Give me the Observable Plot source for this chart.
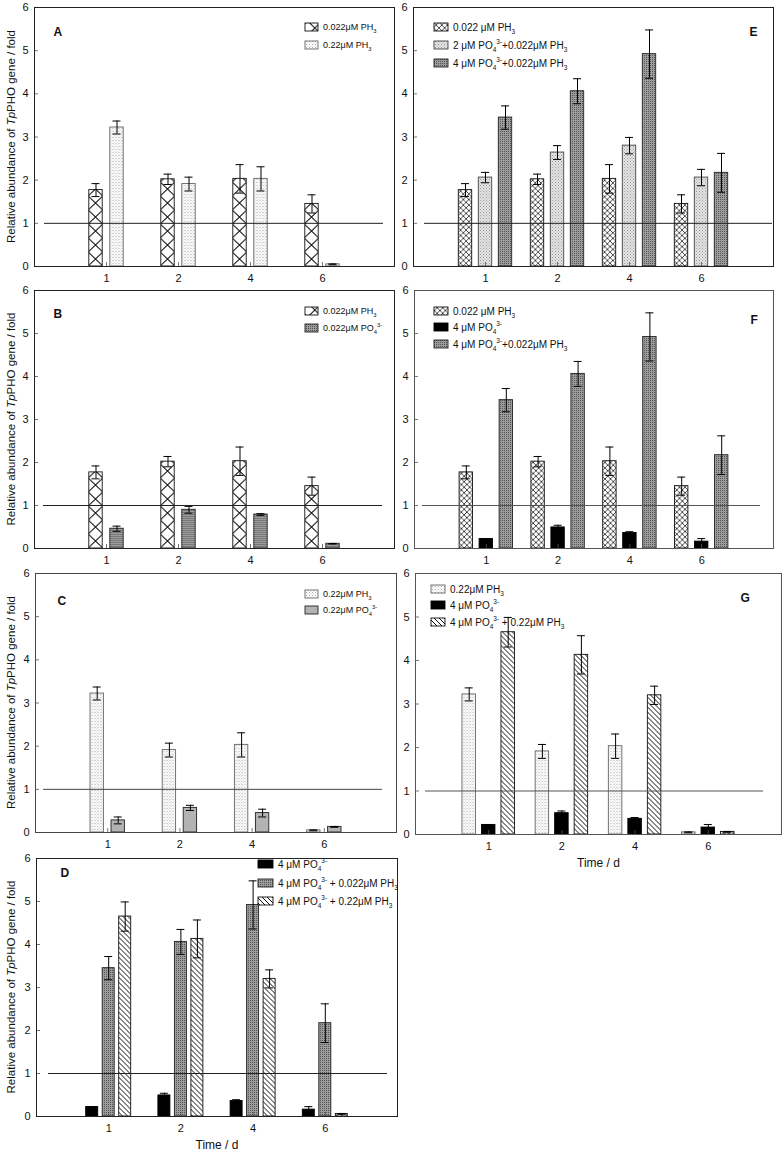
<!DOCTYPE html>
<html><head><meta charset="utf-8">
<script src="https://cdn.jsdelivr.net/npm/d3@7"></script>
<script src="https://cdn.jsdelivr.net/npm/@observablehq/plot@0.6"></script>
<style>
body{margin:0;background:#fff;}
#wrap{position:relative;width:784px;height:1156px;background:#fff;overflow:hidden;}
#wrap svg{position:absolute;}
</style></head><body><div id="wrap"></div>
<script>
// ---------- data ----------
const days = ["1", "2", "4", "6"];
const yTicks = [0, 1, 2, 3, 4, 5, 6];
// relative abundance (fold) and error per treatment
const ph3_022 = [1.77, 2.02, 2.03, 1.45];
const ph3_022Err = [0.15, 0.12, 0.33, 0.21];
const ph3_22 = [3.22, 1.91, 2.03, 0.05];
const ph3_22Err = [0.15, 0.16, 0.28, 0.01];
const po4_022 = [0.46, 0.90, 0.79, 0.11];
const po4_022Err = [0.06, 0.08, 0.02, 0.005];
const po4_22 = [0.28, 0.57, 0.45, 0.13];
const po4_22Err = [0.08, 0.06, 0.09, 0.01];
const po4_4 = [0.22, 0.49, 0.36, 0.16];
const po4_4Err = [0.01, 0.05, 0.03, 0.07];
const po4_2ph3_022 = [2.06, 2.64, 2.80, 2.06];
const po4_2ph3_022Err = [0.12, 0.16, 0.19, 0.19];
const po4_4ph3_022 = [3.45, 4.06, 4.92, 2.17];
const po4_4ph3_022Err = [0.27, 0.29, 0.56, 0.45];
const po4_4ph3_22 = [4.65, 4.13, 3.20, 0.06];
const po4_4ph3_22Err = [0.34, 0.44, 0.21, 0.01];
// legend labels ({_x} subscript, {^x} superscript)
const legendA = ["0.022μM PH{_3}", "0.22μM PH{_3}"];
const legendB = ["0.022μM PH{_3}", "0.022μM PO{_4}{^3-}"];
const legendC = ["0.22μM PH{_3}", "0.22μM PO{_4}{^3-}"];
const legendD = ["4 μM PO{_4}{^3-}", "4 μM PO{_4}{^3-} + 0.022μM PH{_3}", "4 μM PO{_4}{^3-} + 0.22μM PH{_3}"];
const legendE = ["0.022 μM PH{_3}", "2 μM PO{_4}{^3-}+0.022μM PH{_3}", "4 μM PO{_4}{^3-}+0.022μM PH{_3}"];
const legendF = ["0.022 μM PH{_3}", "4 μM PO{_4}{^3-}", "4 μM PO{_4}{^3-}+0.022μM PH{_3}"];
const legendG = ["0.22μM PH{_3}", "4 μM PO{_4}{^3-}", "4 μM PO{_4}{^3-} + 0.22μM PH{_3}"];
const yTitleParts = ["Relative abundance of ", "Tp", "PHO gene / fold"];
const xTitle = "Time / d";

// ---------- layout / styles ----------
const FONT = '"Liberation Sans", Arial, Helvetica, sans-serif';
const strokeOf = {crossBig: "#111", crossSmall: "#111", dots: "#666", dark: "#222", light: "#444", gray: "#222", black: "#000", hatch: "#111"};

const panels = [
  {id: "A", col: 0, frame: [34, 394, 7, 266], series: [[ph3_022, ph3_022Err, "crossBig"], [ph3_22, ph3_22Err, "dots"]],
   legend: legendA, offsets: [-10.5, 10.5], barW: 13.4, leg: {x: 305, rows: [27, 45], fs: 9, sw: 13}, letter: [53, 27], ref: [10, 11], yTitle: true, xTitle: false, ink: "#222"},
  {id: "B", col: 0, frame: [34, 394, 290, 548], series: [[ph3_022, ph3_022Err, "crossBig"], [po4_022, po4_022Err, "dark"]],
   legend: legendB, offsets: [-10.5, 10.5], barW: 13.4, leg: {x: 305, rows: [311, 328], fs: 9, sw: 13}, letter: [53, 309], ref: [9, 12], yTitle: true, xTitle: false, ink: "#222"},
  {id: "C", col: 0, frame: [35, 396, 573, 832], series: [[ph3_22, ph3_22Err, "dots"], [po4_22, po4_22Err, "gray"]],
   legend: legendC, offsets: [-10.5, 10.5], barW: 13.4, leg: {x: 305, rows: [594, 610], fs: 9, sw: 13}, letter: [57, 596], ref: [8, 14], yTitle: true, xTitle: false, ink: "#444"},
  {id: "D", col: 0, frame: [36, 397, 858, 1116], series: [[po4_4, po4_4Err, "black"], [po4_4ph3_022, po4_4ph3_022Err, "dark"], [po4_4ph3_22, po4_4ph3_22Err, "hatch"]],
   legend: legendD, offsets: [-16.5, 0, 16.5], barW: 12, leg: {x: 258, rows: [864, 883, 901], fs: 10, sw: 15}, letter: [60, 868], ref: [12, 10], yTitle: true, xTitle: true, ink: "#222"},
  {id: "E", col: 1, frame: [413, 773, 7, 266], series: [[ph3_022, ph3_022Err, "crossSmall"], [po4_2ph3_022, po4_2ph3_022Err, "light"], [po4_4ph3_022, po4_4ph3_022Err, "dark"]],
   legend: legendE, offsets: [-20, 0, 20], barW: 13.4, leg: {x: 434, rows: [27, 45, 63], fs: 10, sw: 14}, letter: [749, 27], ref: [11, 1], yTitle: false, xTitle: false, ink: "#222"},
  {id: "F", col: 1, frame: [414, 773, 290, 548], series: [[ph3_022, ph3_022Err, "crossSmall"], [po4_4, po4_4Err, "black"], [po4_4ph3_022, po4_4ph3_022Err, "dark"]],
   legend: legendF, offsets: [-20, 0, 20], barW: 13.4, leg: {x: 434, rows: [311, 327, 344], fs: 10, sw: 14}, letter: [750, 315], ref: [8, 13], yTitle: false, xTitle: false, ink: "#555"},
  {id: "G", col: 1, frame: [415, 781, 573, 834], series: [[ph3_22, ph3_22Err, "dots"], [po4_4, po4_4Err, "black"], [po4_4ph3_22, po4_4ph3_22Err, "hatch"]],
   legend: legendG, offsets: [-19.5, 0, 19.5], barW: 13.5, leg: {x: 431, rows: [589, 605, 622], fs: 10, sw: 14}, letter: [740, 593], ref: [10, 18], yTitle: false, xTitle: true, ink: "#555"}
];

function addDefs(svg, pid, xStart, bw, y0) {
  const defs = svg.insert("defs", ":first-child");
  const pat = (name, w, h, x = 0, y = 0) => defs.append("pattern").attr("id", `${pid}-${name}`)
    .attr("patternUnits", "userSpaceOnUse").attr("width", w).attr("height", h).attr("x", x).attr("y", y);
  const bg = (p, w, h, c) => p.append("rect").attr("width", w).attr("height", h).attr("fill", c);
  const dot = (p, x, y, s, c) => p.append("rect").attr("x", x).attr("y", y).attr("width", s).attr("height", s).attr("fill", c);
  let p = pat("crossBig", bw, 14, xStart, y0);
  bg(p, bw, 14, "#fff");
  p.append("path").attr("d", `M0,0L${bw},14M${bw},0L0,14`).attr("stroke", "#111").attr("stroke-width", 1).attr("fill", "none");
  const cs = bw / 2.6;
  p = pat("crossSmall", cs, cs, xStart, y0);
  bg(p, cs, cs, "#fff");
  p.append("path").attr("d", `M0,0L${cs},${cs}M${cs},0L0,${cs}`).attr("stroke", "#222").attr("stroke-width", 0.8).attr("fill", "none");
  p = pat("dots", 3, 3);
  bg(p, 3, 3, "#fff"); dot(p, 0, 0, 1, "#aaa"); dot(p, 1.5, 1.5, 1, "#bbb");
  p = pat("dark", 2, 2);
  bg(p, 2, 2, "#9c9c9c"); dot(p, 0, 0, 1, "#555");
  p = pat("light", 3, 3);
  bg(p, 3, 3, "#e4e4e4"); dot(p, 0, 0, 1, "#999"); dot(p, 1.5, 1.5, 1, "#aaa");
  p = pat("gray", 4, 4); bg(p, 4, 4, "#b3b3b3");
  p = pat("black", 4, 4); bg(p, 4, 4, "#000");
  p = pat("hatch", 5, 5);
  bg(p, 5, 5, "#fff");
  p.append("path").attr("d", "M0,0L5,5M-1,4L1,6M4,-1L6,1").attr("stroke", "#111").attr("stroke-width", 1).attr("fill", "none");
}

function rich(textSel, markup, fs) {
  const re = /\{([_^])([^}]*)\}/g;
  let last = 0, m, cur = 0;
  const seg = (str, kind) => {
    if (!str) return;
    const target = kind === "_" ? fs * 0.3 : kind === "^" ? -fs * 0.45 : 0;
    const t = textSel.append("tspan").attr("dy", target - cur).text(str);
    if (kind) t.attr("font-size", fs * 0.65);
    cur = target;
  };
  while ((m = re.exec(markup))) {
    seg(markup.slice(last, m.index), null);
    seg(m[2], m[1]);
    last = re.lastIndex;
  }
  seg(markup.slice(last), null);
}

const wrap = document.getElementById("wrap");
for (const P of panels) {
  const [fl, fr, ft, fb] = P.frame;
  const svgLeft = P.col === 0 ? 0 : 396;
  const mT = 8, mB = 42, mL = fl - svgLeft, mR = P.col === 0 ? 8 : 3;
  const svgTop = ft - mT;
  const fw = fr - fl, fh = fb - ft;
  const W = mL + fw + mR, H = mT + fh + mB;
  const bw = (fw / 5) * 0.2;
  const inset = (bw - P.barW) / 2;
  const capIn = (bw - 8) / 2;
  const marks = [];
  P.series.forEach(([vals, errs, key], k) => {
    const rows = days.map((d, i) => ({day: d, v: vals[i]}));
    const dx = P.offsets[k];
    marks.push(Plot.barY(rows, {x: "day", y: "v", dx, insetLeft: inset, insetRight: inset,
      fill: `url(#${P.id}-${key})`, stroke: strokeOf[key], strokeWidth: 0.9}));
  });
  P.series.forEach(([vals, errs, key], k) => {
    const rows = days.map((d, i) => ({day: d, lo: Math.max(0, vals[i] - errs[i]), hi: vals[i] + errs[i]}));
    const dx = P.offsets[k];
    marks.push(Plot.ruleX(rows, {x: "day", y1: "lo", y2: "hi", dx, stroke: "#000", strokeWidth: 1}));
    marks.push(Plot.tickY(rows, {x: "day", y: "hi", dx, insetLeft: capIn, insetRight: capIn, stroke: "#000", strokeWidth: 1}));
    marks.push(Plot.tickY(rows, {x: "day", y: "lo", dx, insetLeft: capIn, insetRight: capIn, stroke: "#000", strokeWidth: 1}));
  });
  marks.push(Plot.ruleY([1], {insetLeft: P.ref[0], insetRight: P.ref[1], stroke: P.ink, strokeWidth: 1}));
  marks.push(Plot.tickY([1, 2, 3, 4, 5], {y: d => d, insetRight: fw - 4, stroke: "#555", strokeWidth: 0.8}));
  marks.push(Plot.tickX(days, {x: d => d, insetTop: fh - 4, stroke: "#555", strokeWidth: 0.8}));
  marks.push(Plot.frame({stroke: P.ink, strokeWidth: 1}));
  marks.push(Plot.axisY(yTicks, {tickSize: 0, tickPadding: 6, fontSize: 11, color: "#111", tickFormat: d => String(d), label: null}));
  marks.push(Plot.axisX({tickSize: 0, tickPadding: 8, fontSize: 11, color: "#111", label: null}));
  marks.push(Plot.text([P.id], {text: d => d, frameAnchor: "top-left", dx: P.letter[0] - fl, dy: P.letter[1] - ft,
    fontWeight: "bold", fontSize: 12, fill: "#111"}));
  if (P.xTitle) marks.push(Plot.text([xTitle], {text: d => d, frameAnchor: "bottom", dy: 32, fontSize: 12, fill: "#111"}));

  const chart = Plot.plot({
    width: W, height: H, marginLeft: mL, marginRight: mR, marginTop: mT, marginBottom: mB,
    x: {type: "band", domain: days, paddingInner: 0.8, paddingOuter: 0.9, round: false, label: null},
    y: {domain: [0, 6], label: null},
    marks
  });
  const svg = d3.select(chart);
  svg.style("left", svgLeft + "px").style("top", svgTop + "px").style("background", "none")
     .style("overflow", "visible").style("max-width", "none").style("font-family", FONT);
  const xs = chart.scale("x"), ys = chart.scale("y");
  addDefs(svg, P.id, xs.apply(days[0]), xs.bandwidth, ys.apply(0));

  // legend
  const fs = P.leg.fs;
  const g = svg.append("g").attr("font-family", FONT).attr("font-size", fs).attr("fill", "#111")
    .attr("text-anchor", "start");
  P.legend.forEach((lab, k) => {
    const key = P.series[k][2];
    const ry = P.leg.rows[k] - svgTop;
    const sx = P.leg.x - svgLeft;
    g.append("rect").attr("x", sx).attr("y", ry - 4).attr("width", P.leg.sw).attr("height", 8)
      .attr("fill", `url(#${P.id}-${key})`).attr("stroke", strokeOf[key]).attr("stroke-width", 0.9);
    const t = g.append("text").attr("text-anchor", "start").attr("x", sx + P.leg.sw + 5).attr("y", ry + fs * 0.35);
    rich(t, lab, fs);
  });

  if (P.yTitle) {
    const cy = (ft + fb) / 2 - svgTop;
    const t = svg.append("text").attr("transform", `translate(${15 - svgLeft},${cy}) rotate(-90)`)
      .attr("text-anchor", "middle").attr("font-size", 11.5).attr("font-family", FONT).attr("fill", "#111");
    t.append("tspan").text(yTitleParts[0]);
    t.append("tspan").attr("font-style", "italic").text(yTitleParts[1]);
    t.append("tspan").text(yTitleParts[2]);
  }
  wrap.appendChild(chart);
}
</script></body></html>
